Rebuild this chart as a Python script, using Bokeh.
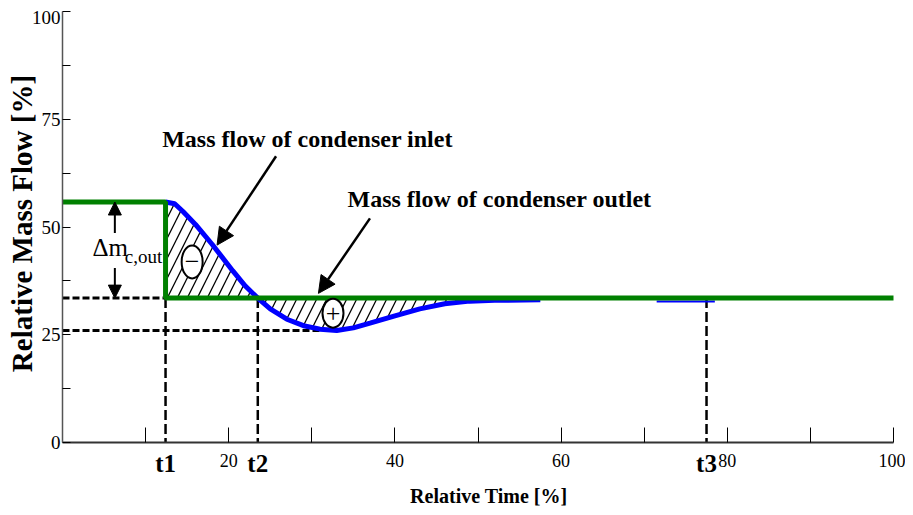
import math
from bokeh.plotting import figure
from bokeh.models import Range1d, FixedTicker, Label, Arrow, NormalHead
from bokeh.embed import file_html
from bokeh.resources import INLINE

# ---------------- data ----------------
t_marks = [12.4, 23.5, 77.5]
t_labels = ["t1", "t2", "t3"]

outlet_high = 55.8
outlet_low = 33.5
inlet_min = 26.0
inlet_min_x = 31.0

# inlet mass flow (blue) after the step at t1
inlet_x = [12.4, 13.5, 14.5, 16.0, 18.0, 20.5, 22.0, 23.5, 25.0, 27.0, 29.0,
           31.0, 33.0, 35.0, 37.0, 40.0, 43.0, 46.0, 49.0, 52.0, 57.5]
inlet_y = [55.8, 55.4, 53.6, 50.6, 46.0, 39.8, 36.3, 33.5, 31.0, 28.6, 27.1,
           26.3, 26.0, 26.6, 27.7, 29.4, 31.0, 32.2, 32.8, 33.0, 33.1]
# short visible piece of the inlet line near t3
inlet2_x = [71.5, 78.5]
inlet2_y = [32.7, 32.7]

# outlet mass flow (green)
outlet_x = [0, 12.4, 12.4, 100]
outlet_y = [55.8, 55.8, 33.5, 33.5]

x_ticks = [10, 20, 30, 40, 50, 60, 70, 80, 90, 100]
x_tick_labels = ["", "20", "", "40", "", "60", "", "80", "", "100"]
y_ticks = [0, 12.5, 25, 37.5, 50, 62.5, 75, 87.5, 100]
y_tick_labels = ["0", "", "25", "", "50", "", "75", "", ""]
y_top_label = "100"

SERIF = "Liberation Serif"

p = figure(width=905, height=513, output_backend="svg", toolbar_location=None,
           x_range=Range1d(-7.461, 101.444), y_range=Range1d(-16.473, 102.552),
           min_border=0)
p.outline_line_color = None
p.grid.visible = False
p.background_fill_color = "white"
p.border_fill_color = "white"

# x axis drawn at y = 0
xa = p.xaxis[0]
xa.fixed_location = 0
xa.bounds = (0, 100)
xa.ticker = FixedTicker(ticks=x_ticks)
xa.major_label_overrides = {t: l for t, l in zip(x_ticks, x_tick_labels)}
xa.major_tick_in = 15
xa.major_tick_out = 0
xa.minor_tick_out = 0
xa.minor_tick_in = 0
xa.major_tick_line_color = "black"
xa.axis_line_color = "#333333"
xa.axis_line_width = 2
xa.major_label_standoff = 11
xa.major_label_text_font = SERIF
xa.major_label_text_font_size = "18px"
xa.major_label_text_color = "black"

# y axis drawn at x = 0
ya = p.yaxis[0]
ya.fixed_location = 0
ya.bounds = (0, 100)
ya.ticker = FixedTicker(ticks=y_ticks)
ya.major_label_overrides = {t: l for t, l in zip(y_ticks, y_tick_labels)}
ya.major_tick_in = 8
ya.major_tick_out = 0
ya.minor_tick_out = 0
ya.minor_tick_in = 0
ya.major_tick_line_color = "black"
ya.axis_line_color = "#555555"
ya.axis_line_width = 1.5
ya.major_label_standoff = 2
ya.major_label_text_font = SERIF
ya.major_label_text_font_size = "19px"
ya.major_label_text_color = "black"
p.add_layout(Label(x=-0.25, y=100, text=y_top_label, text_align="right",
                   text_baseline="top", text_font=SERIF,
                   text_font_size="19px", text_color="black"))

# hatched areas
n2 = inlet_x.index(t_marks[1])
reg1_x = inlet_x[:n2 + 1]
reg1_y = inlet_y[:n2 + 1]
reg2_x = [x for x in inlet_x if t_marks[1] <= x <= 52.0]
reg2_y = inlet_y[n2:n2 + len(reg2_x)]
p.varea(x=reg1_x, y1=[outlet_low] * len(reg1_x), y2=reg1_y,
        fill_alpha=0, hatch_pattern="/", hatch_scale=20, hatch_weight=1.3,
        hatch_color="black")
p.varea(x=reg2_x, y1=reg2_y, y2=[outlet_low] * len(reg2_x),
        fill_alpha=0, hatch_pattern="/", hatch_scale=20, hatch_weight=1.3,
        hatch_color="black")

# dashed reference lines
p.line([0, t_marks[0]], [outlet_low, outlet_low], line_color="black",
       line_width=3, line_dash="7 3")
p.line([0, inlet_min_x], [inlet_min, inlet_min], line_color="black",
       line_width=3, line_dash="7 3")
p.segment(x0=t_marks, y0=[outlet_low] * 3, x1=t_marks, y1=[0] * 3,
          line_color="black", line_width=2.5, line_dash="10 4")

# curves
p.line(inlet_x, inlet_y, line_color="#0000ff", line_width=5)
p.line(inlet2_x, inlet2_y, line_color="#0000ff", line_width=2)
p.line(outlet_x, outlet_y, line_color="#008000", line_width=5)

# circled signs
sign_x = [15.6, 32.55]
sign_y = [41.9, 30.0]
sign_txt = ["\u2212", "+"]
p.ellipse(x=sign_x, y=sign_y, width=[21, 21], height=[33, 29],
          width_units="screen", height_units="screen",
          fill_color="white", line_color="black", line_width=2)
for sx, sy, st in zip(sign_x, sign_y, sign_txt):
    p.add_layout(Label(x=sx, y=sy, text=st, text_align="center",
                       text_baseline="middle", text_font=SERIF,
                       text_font_size="26px", text_color="black"))

# delta m double arrow
head = lambda: NormalHead(size=13, fill_color="black", line_color="black")
p.add_layout(Arrow(end=head(), x_start=6.3, y_start=48.6, x_end=6.3,
                   y_end=outlet_high, line_width=2, line_color="black"))
p.add_layout(Arrow(end=head(), x_start=6.3, y_start=40.5, x_end=6.3,
                   y_end=outlet_low, line_width=2, line_color="black"))
p.add_layout(Label(x=3.6, y=45.3, text="\u0394m", text_font=SERIF,
                   text_font_size="25px", text_color="black",
                   text_baseline="middle"))
p.add_layout(Label(x=7.5, y=43.2, text="c,out", text_font=SERIF,
                   text_font_size="19px", text_color="black",
                   text_baseline="middle"))

# annotations with arrows
p.add_layout(Label(x=12.0, y=70.5, text="Mass flow of condenser inlet",
                   text_font=SERIF, text_font_style="bold",
                   text_font_size="24px", text_color="black",
                   text_baseline="middle"))
p.add_layout(Arrow(end=NormalHead(size=17, fill_color="black", line_color="black"),
                   x_start=25.7, y_start=66.4, x_end=18.6, y_end=45.8,
                   line_width=2.5, line_color="black"))
p.add_layout(Label(x=34.3, y=56.4, text="Mass flow of condenser outlet",
                   text_font=SERIF, text_font_style="bold",
                   text_font_size="24px", text_color="black",
                   text_baseline="middle"))
p.add_layout(Arrow(end=NormalHead(size=17, fill_color="black", line_color="black"),
                   x_start=37.0, y_start=52.0, x_end=30.8, y_end=34.6,
                   line_width=2.5, line_color="black"))

# t labels below axis
for tx, tl in zip(t_marks, t_labels):
    p.add_layout(Label(x=tx, y=-4.9, text=tl, text_align="center",
                       text_baseline="middle", text_font=SERIF,
                       text_font_style="bold", text_font_size="25px",
                       text_color="black"))

# axis titles
p.add_layout(Label(x=51.3, y=-12.3, text="Relative Time [%]",
                   text_align="center", text_baseline="middle",
                   text_font=SERIF, text_font_style="bold",
                   text_font_size="20px", text_color="black"))
p.add_layout(Label(x=-4.93, y=50.8, text="Relative Mass Flow [%]",
                   angle=math.pi / 2, text_align="center",
                   text_baseline="middle", text_font=SERIF,
                   text_font_style="bold", text_font_size="29px",
                   text_color="black"))

open("out.html", "w").write(file_html(p, INLINE))
